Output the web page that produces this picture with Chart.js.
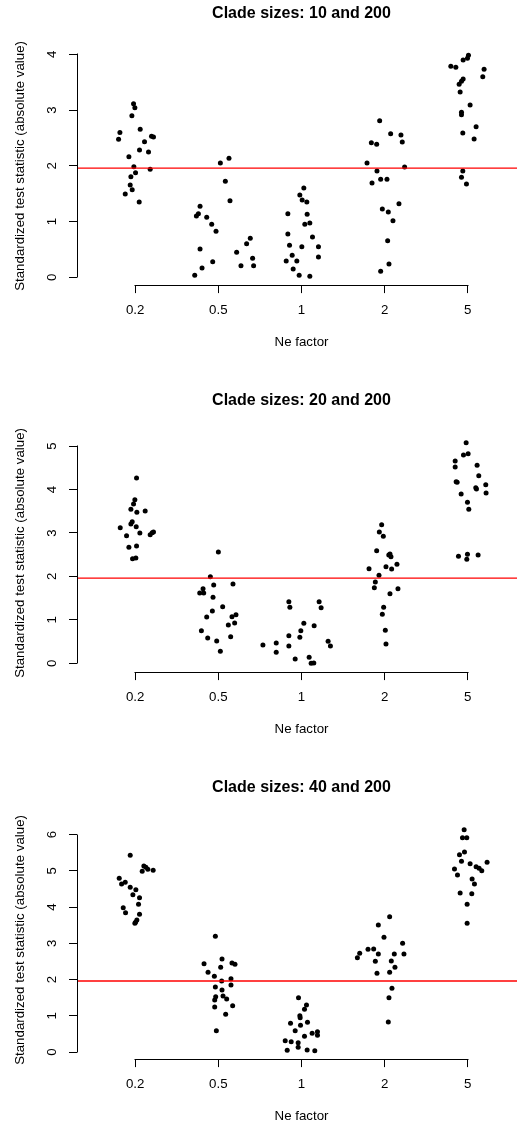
<!DOCTYPE html>
<html lang="en">
<head>
  <meta charset="UTF-8">
  <title>Clade sizes</title>
  <script src="https://cdn.jsdelivr.net/npm/chart.js"></script>
  <style>
    html, body { margin: 0; padding: 0; background: #fff; overflow: hidden; }
    #wrap { position: relative; width: 517px; height: 1124px; overflow: hidden; }
    .panel { position: absolute; left: 0; }
  </style>
</head>
<body>
  <div id="wrap">
    <canvas id="p1" class="panel" width="530" height="387" style="top:0"></canvas>
    <canvas id="p2" class="panel" width="530" height="387" style="top:387px"></canvas>
    <canvas id="p3" class="panel" width="530" height="387" style="top:774px"></canvas>
  </div>

  <script>
    // categories (x = 1..5 on the axis, points are jittered around them)
    const neLabels = ['0.2', '0.5', '1', '2', '5'];
    const xTicks = [1, 2, 3, 4, 5];
    const titles = ['Clade sizes: 10 and 200', 'Clade sizes: 20 and 200', 'Clade sizes: 40 and 200'];
    const threshold = 1.96;

    const yTicks10 = [0, 1, 2, 3, 4];
    const yTicks20 = [0, 1, 2, 3, 4, 5];
    const yTicks40 = [0, 1, 2, 3, 4, 5, 6];

    // [jittered x, |statistic|]
    const clade10 = [
      [0.80,2.475],[0.816,2.60],[0.98,3.115],[0.996,3.043],[0.96,2.90],[1.06,2.655],[0.924,2.164],[1.112,2.433],[1.052,2.284],[1.16,2.248],
      [1.196,2.529],[1.22,2.517],[0.984,1.985],[0.948,1.806],[1.004,1.877],[1.18,1.937],[0.94,1.656],[0.964,1.572],[0.88,1.495],[1.048,1.351],
      [1.736,1.100],[1.76,1.142],[1.78,1.274],[1.86,1.076],[1.92,0.951],[1.972,0.825],[1.78,0.508],[1.932,0.281],[1.804,0.167],[1.716,0.036],
      [2.024,2.051],[2.128,2.134],[2.084,1.722],[2.14,1.375],[2.22,0.448],[2.272,0.209],[2.34,0.604],[2.384,0.700],[2.412,0.341],[2.424,0.209],
      [2.836,1.142],[2.98,1.477],[3.028,1.602],[3.008,1.387],[3.064,1.351],[3.068,1.130],[3.04,0.951],[3.10,0.975],[3.132,0.723],[2.836,0.777],
      [2.856,0.574],[3.004,0.550],[3.204,0.550],[2.888,0.395],[2.944,0.293],[2.816,0.293],[3.204,0.365],[2.90,0.149],[2.972,0.036],[3.10,0.018],
      [3.940,2.810],[4.072,2.577],[4.196,2.553],[4.212,2.427],[3.840,2.415],[3.904,2.386],[3.788,2.051],[4.240,1.979],[3.908,1.907],[3.848,1.692],
      [3.952,1.758],[4.028,1.758],[4.172,1.321],[3.972,1.226],[4.044,1.172],[4.100,1.016],[4.036,0.657],[4.052,0.239],[3.952,0.108],
      [4.796,3.785],[4.856,3.767],[4.944,3.898],[4.996,3.928],[5.008,3.982],[5.196,3.731],[5.18,3.599],[4.944,3.557],[4.924,3.516],[4.896,3.462],
      [4.908,3.324],[5.028,3.091],[4.924,2.960],[4.924,2.918],[5.10,2.702],[4.94,2.589],[5.076,2.481],[4.94,1.907],[4.924,1.794],[4.984,1.674]
    ];

    const clade20 = [
      [1.016,4.264],[0.996,3.765],[0.98,3.666],[0.948,3.543],[1.02,3.474],[1.12,3.505],[0.964,3.259],[0.948,3.206],[1.012,3.144],[0.82,3.121],
      [1.056,2.998],[0.896,2.937],[1.18,2.960],[1.204,3.006],[1.22,3.021],[0.924,2.669],[1.016,2.699],[0.968,2.408],[1.008,2.423],
      [2.0,2.561],[1.904,1.993],[1.944,1.802],[2.176,1.825],[1.816,1.717],[1.776,1.618],[1.824,1.618],[1.936,1.518],[2.052,1.303],[1.928,1.204],
      [1.860,1.066],[2.164,1.073],[2.212,1.119],[2.196,0.928],[2.120,0.882],[1.796,0.751],[1.872,0.583],[1.980,0.514],[2.148,0.613],[2.024,0.28],
      [2.536,0.422],[2.696,0.468],[2.696,0.253],[2.848,1.419],[2.86,1.288],[2.848,0.637],[2.848,0.399],[2.924,0.100],[2.98,0.598],[2.992,0.752],
      [3.028,0.920],[3.152,0.867],[3.092,0.138],[3.116,0.0],[3.148,0.008],[3.212,1.419],[3.236,1.281],[3.32,0.506],[3.348,0.399],
      [3.964,3.190],[3.936,3.021],[3.984,2.922],[3.904,2.592],[4.064,2.515],[4.076,2.454],[4.05,2.49],[4.148,2.278],[4.016,2.224],[4.084,2.170],
      [3.812,2.178],[3.932,2.025],[3.888,1.871],[3.876,1.741],[4.16,1.718],[4.064,1.603],[3.988,1.288],[3.972,1.127],[4.008,0.759],[4.016,0.445],
      [4.98,5.077],[4.948,4.793],[5.004,4.824],[4.848,4.655],[4.848,4.517],[5.112,4.555],[5.132,4.317],[4.86,4.179],[4.872,4.164],[5.216,4.110],
      [5.22,3.919],[5.096,4.041],[5.104,4.011],[4.92,3.896],[4.996,3.704],[5.012,3.543],[4.888,2.462],[4.996,2.508],[4.988,2.393],[5.124,2.492]
    ];

    const clade40 = [
      [0.94,5.429],[0.808,4.794],[0.836,4.638],[0.88,4.684],[0.94,4.546],[1.008,4.481],[0.972,4.343],[1.052,4.261],[1.04,4.077],[0.856,3.985],
      [0.884,3.847],[1.052,3.800],[1.02,3.644],[1.004,3.580],[0.996,3.552],[1.104,5.135],[1.128,5.098],[1.084,4.988],[1.152,5.043],[1.216,5.015],
      [1.964,3.193],[1.828,2.439],[2.044,2.567],[1.876,2.199],[2.028,2.337],[1.952,2.089],[2.164,2.457],[2.20,2.420],[2.152,2.024],[2.04,1.960],
      [2.152,1.850],[1.964,1.794],[2.044,1.712],[1.968,1.528],[2.056,1.546],[1.956,1.436],[2.10,1.463],[2.172,1.279],[1.956,1.242],[2.088,1.040],[1.976,0.589],
      [2.964,1.500],[3.06,1.297],[3.036,1.178],[2.98,1.003],[2.984,0.948],[2.868,0.791],[2.988,0.736],[3.072,0.819],[2.924,0.589],[3.036,0.433],
      [3.128,0.515],[3.192,0.561],[3.192,0.460],[2.804,0.313],[2.876,0.285],[2.96,0.258],[2.96,0.129],[2.828,0.046],[3.068,0.055],[3.16,0.037],
      [4.06,3.736],[3.924,3.506],[3.992,3.166],[4.216,3.000],[3.672,2.604],[3.70,2.724],[3.80,2.834],[3.868,2.843],[3.924,2.705],[4.116,2.705],
      [4.232,2.705],[3.888,2.503],[4.08,2.512],[4.124,2.337],[3.908,2.172],[4.06,2.199],[4.088,1.758],[4.052,1.500],[4.044,0.828],
      [4.956,6.138],[4.936,5.917],[4.988,5.917],[4.90,5.448],[4.96,5.521],[4.924,5.264],[5.028,5.199],[4.84,5.052],[4.876,4.886],[5.10,5.116],
      [5.136,5.070],[5.168,5.006],[5.232,5.236],[5.052,4.776],[5.08,4.638],[4.908,4.389],[5.048,4.371],[4.992,4.077],[4.992,3.552]
    ];

    const xLim = [0.3, 5.7];

    Chart.defaults.font.family = "'Liberation Sans', Arial, Helvetica, sans-serif";
    Chart.defaults.color = '#000';

    // R style axes: line only from first to last tick
    const rAxes = {
      id: 'rAxes',
      afterDraw(chart) {
        const {ctx, chartArea, scales: {x, y}} = chart;
        ctx.save();
        ctx.strokeStyle = '#000';
        ctx.lineWidth = 1;
        ctx.beginPath();
        const ax = Math.round(chartArea.left) + 0.5;
        ctx.moveTo(ax, Math.round(y.getPixelForValue(y.ticks[0].value)) + 0.5);
        ctx.lineTo(ax, Math.round(y.getPixelForValue(y.ticks[y.ticks.length - 1].value)) - 0.5);
        const ay = Math.floor(chartArea.bottom) + 0.5;
        ctx.moveTo(Math.round(x.getPixelForValue(x.ticks[0].value)) - 0.5, ay);
        ctx.lineTo(Math.round(x.getPixelForValue(x.ticks[x.ticks.length - 1].value)) + 0.5, ay);
        ctx.stroke();
        ctx.restore();
      }
    };

    function makePanel(id, title, points, yLim, yTicks) {
      new Chart(document.getElementById(id), {
        type: 'scatter',
        data: {
          datasets: [
            {
              type: 'line',
              data: [{x: xLim[0], y: threshold}, {x: xLim[1], y: threshold}],
              borderColor: '#ff0000',
              borderWidth: 1.3,
              pointRadius: 0,
              fill: false,
              order: 0
            },
            {
              data: points.map(p => ({x: p[0], y: p[1]})),
              backgroundColor: '#000',
              borderWidth: 0,
              pointRadius: 2.5,
              order: 1
            }
          ]
        },
        options: {
          responsive: false,
          animation: false,
          devicePixelRatio: 1,
          layout: { padding: { left: 0, right: 3, top: 0, bottom: 0 } },
          plugins: {
            legend: { display: false },
            tooltip: { enabled: false },
            title: {
              display: true,
              text: title,
              fullSize: false,
              font: { size: 16, weight: 'bold' },
              color: '#000',
              padding: { top: 4.4, bottom: 23.2 }
            }
          },
          scales: {
            x: {
              type: 'linear',
              min: xLim[0],
              max: xLim[1],
              afterBuildTicks: s => { s.ticks = xTicks.map(v => ({value: v})); },
              afterFit: s => { s.height = 101.9; },
              ticks: {
                callback: (v, i) => neLabels[i],
                autoSkip: false,
                maxRotation: 0,
                padding: 9.6,
                font: { size: 13.3 }
              },
              grid: { drawOnChartArea: false, tickLength: 8, color: '#000', lineWidth: 1 },
              border: { display: false },
              title: {
                display: true,
                text: 'Ne factor',
                font: { size: 13.3 },
                padding: { top: 0, bottom: 37 }
              }
            },
            y: {
              type: 'linear',
              min: yLim[0],
              max: yLim[1],
              afterBuildTicks: s => { s.ticks = yTicks.map(v => ({value: v})); },
              afterFit: s => { s.width = 77; },
              ticks: {
                minRotation: 90,
                maxRotation: 90,
                crossAlign: 'center',
                padding: 13,
                font: { size: 13.3 }
              },
              grid: { drawOnChartArea: false, tickLength: 8, color: '#000', lineWidth: 1 },
              border: { display: false },
              title: {
                display: true,
                text: 'Standardized test statistic (absolute value)',
                font: { size: 13.3 },
                padding: { top: 12, bottom: 0 }
              }
            }
          }
        },
        plugins: [rAxes]
      });
    }

    makePanel('p1', titles[0], clade10, [-0.139, 4.135], yTicks10);
    makePanel('p2', titles[1], clade20, [-0.202, 5.281], yTicks20);
    makePanel('p3', titles[2], clade40, [-0.196, 6.383], yTicks40);
  </script>
</body>
</html>
